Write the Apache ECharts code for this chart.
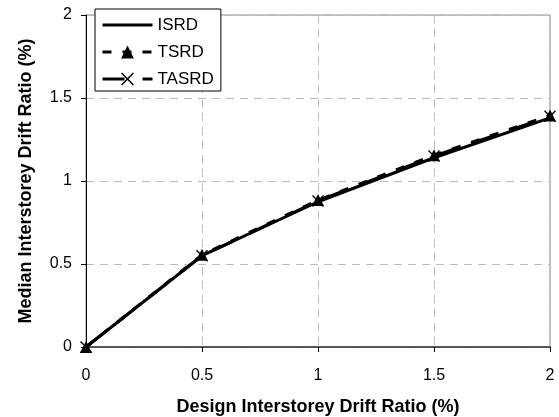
<!DOCTYPE html>
<html><head><meta charset="utf-8">
<script src="https://cdn.jsdelivr.net/npm/echarts@6/dist/echarts.min.js"></script>
<style>html,body{margin:0;padding:0;background:#fff}#c{width:559px;height:417px}</style>
</head><body><div id="c"></div>
<script>
const xValues = [0, 0.5, 1, 1.5, 2];
const isrd = [0, 0.55, 0.875, 1.14, 1.38];
const tsrd = [0, 0.555, 0.885, 1.155, 1.395];
const tasrd = [0, 0.55, 0.88, 1.15, 1.39];
const xTicks = [0, 0.5, 1, 1.5, 2];
const yTicks = [0, 0.5, 1, 1.5, 2];

const X = 'path://M0,0.8L0.8,0L5,4.2L9.2,0L10,0.8L5.8,5L10,9.2L9.2,10L5,5.8L0.8,10L0,9.2L4.2,5Z';
const pair = a => xValues.map((x, i) => [x, a[i]]);
const font = 'Liberation Sans, Arial, sans-serif';

const chart = echarts.init(document.getElementById('c'), null, {renderer: 'canvas'});
chart.setOption({
  animation: false,
  backgroundColor: '#fff',
  textStyle: {fontFamily: font},
  grid: {left: 86, right: 9, top: 15, bottom: 70, show: true, borderColor: '#888', borderWidth: 1,
    containLabel: false, outerBoundsMode: 'none'},
  legend: {
    left: 95, top: 9, orient: 'vertical', itemWidth: 50, itemHeight: 16, itemGap: 9,
    padding: [7, 7, 3, 6],
    backgroundColor: '#fff', borderColor: '#000', borderWidth: 1,
    lineStyle: {width: 3},
    textStyle: {fontFamily: font, fontSize: 17, lineHeight: 18, color: '#000', padding: [0, 0, 0, 0]},
    data: [
      {name: 'ISRD', itemStyle: {opacity: 0}},
      {name: 'TSRD'},
      {name: 'TASRD'}
    ]
  },
  xAxis: {
    type: 'value', min: 0, max: 2, interval: 0.5,
    name: 'Design Interstorey Drift Ratio (%)', nameLocation: 'middle', nameGap: 51,
    nameTextStyle: {fontFamily: font, fontSize: 18, fontWeight: 'bold', color: '#000'},
    axisLine: {lineStyle: {color: '#333', width: 1.5}},
    axisTick: {show: true, length: 5, lineStyle: {color: '#000'}},
    axisLabel: {fontFamily: font, fontSize: 16, color: '#000', margin: 21,
      formatter: v => xTicks.includes(v) ? String(v) : ''},
    splitLine: {show: true, lineStyle: {color: '#bbb', type: [8, 6]}}
  },
  yAxis: {
    type: 'value', min: 0, max: 2, interval: 0.5,
    name: 'Median Interstorey Drift Ratio (%)', nameLocation: 'middle', nameGap: 51,
    nameTextStyle: {fontFamily: font, fontSize: 18, fontWeight: 'bold', color: '#000'},
    axisLine: {show: true, lineStyle: {color: '#000', width: 1}},
    axisTick: {show: true, length: 5, lineStyle: {color: '#000'}},
    axisLabel: {fontFamily: font, fontSize: 16, color: '#000', margin: 14,
      formatter: v => yTicks.includes(v) ? String(v) : ''},
    splitLine: {show: true, lineStyle: {color: '#bbb', type: [8, 6]}}
  },
  series: [
    {name: 'ISRD', type: 'line', data: pair(isrd), symbol: 'none', z: 3,
      lineStyle: {color: '#000', width: 3}, itemStyle: {color: '#000'}},
    {name: 'TSRD', type: 'line', data: pair(tsrd), symbol: 'triangle', symbolSize: 12, z: 4,
      lineStyle: {color: '#000', width: 3, type: [9, 11]}, itemStyle: {color: '#000'}},
    {name: 'TASRD', type: 'line', data: pair(tasrd), symbol: X, symbolSize: 12, z: 5,
      lineStyle: {color: '#000', width: 3, type: [22, 18]}, itemStyle: {color: '#000'}}
  ]
});
</script></body></html>
